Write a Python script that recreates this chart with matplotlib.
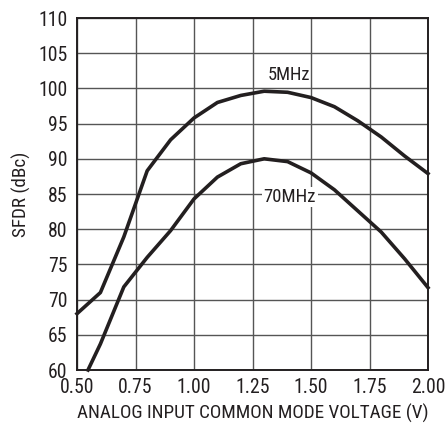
import matplotlib
matplotlib.use("Agg")
import matplotlib.pyplot as plt

# common mode voltage (V) and SFDR (dBc)
voltage = [0.5, 0.6, 0.7, 0.8, 0.9, 1.0, 1.1, 1.2, 1.3, 1.4, 1.5, 1.6, 1.7, 1.8, 1.9, 2.0]
sfdr_5mhz = [68.0, 71.0, 78.9, 88.3, 92.7, 95.8, 98.0, 99.0, 99.6, 99.45, 98.7, 97.4, 95.4, 93.1, 90.4, 87.9]

voltage_70 = [0.547, 0.6, 0.7, 0.8, 0.9, 1.0, 1.1, 1.2, 1.3, 1.4, 1.5, 1.6, 1.7, 1.8, 1.9, 2.0]
sfdr_70mhz = [60.0, 63.7, 71.8, 76.0, 79.8, 84.3, 87.4, 89.3, 90.0, 89.6, 88.0, 85.6, 82.6, 79.6, 75.8, 71.7]

x_ticks = [0.5, 0.75, 1.0, 1.25, 1.5, 1.75, 2.0]
y_ticks = [60, 65, 70, 75, 80, 85, 90, 95, 100, 105, 110]

INK = "#231f20"

plt.rcParams["font.family"] = ["Roboto Condensed", "DejaVu Sans"]

fig = plt.figure(figsize=(4.45, 4.23), dpi=100)
ax = fig.add_axes([77 / 445, 1 - 370 / 423, 351 / 445, 352 / 423])

for xs, ys in [(voltage, sfdr_5mhz), (voltage_70, sfdr_70mhz)]:
    ax.plot(xs, ys, color=INK, linewidth=2.6, solid_joinstyle="round", zorder=3, clip_on=False)

ax.text(1.406, 101.95, "5MHz", ha="center", va="center", fontsize=13.3, color=INK, zorder=4)
ax.text(1.41, 84.6, "70MHz", ha="center", va="center", fontsize=13.5, color=INK, zorder=4,
        bbox=dict(facecolor="white", edgecolor="none", pad=1.0))

ax.set_xlim(0.5, 2.0)
ax.set_ylim(60, 110)
ax.set_xticks(x_ticks)
ax.set_xticklabels([f"{v:.2f}" for v in x_ticks])
ax.set_yticks(y_ticks)
ax.tick_params(length=0, labelsize=14.2, colors=INK)
ax.tick_params(axis="y", pad=7)
ax.tick_params(axis="x", pad=6)
ax.grid(True, color="#555555", linewidth=1.0)
ax.set_axisbelow(True)
for spine in ax.spines.values():
    spine.set_linewidth(1.4)
    spine.set_color(INK)

ax.set_xlabel("ANALOG INPUT COMMON MODE VOLTAGE (V)", fontsize=13.8, color=INK, labelpad=5)
ax.set_ylabel("SFDR (dBc)", fontsize=13.8, color=INK, labelpad=5)

fig.savefig("out.png", dpi=100)
